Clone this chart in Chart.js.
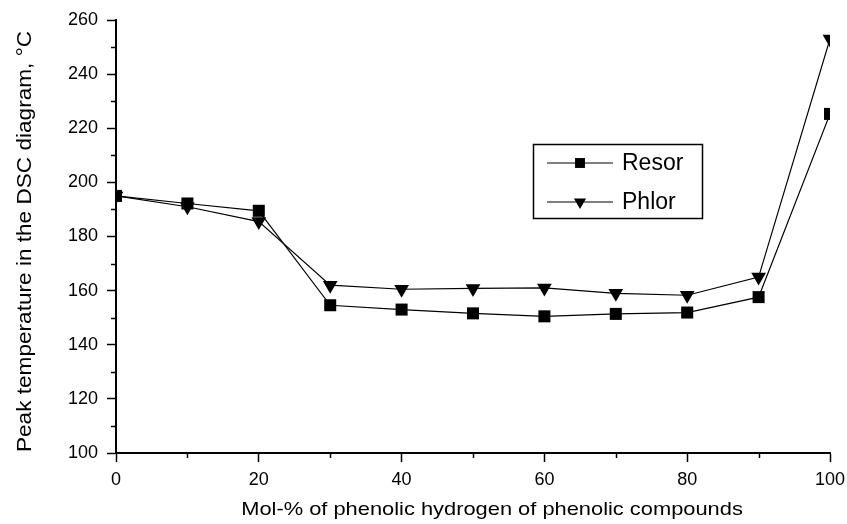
<!DOCTYPE html>
<html>
<head>
<meta charset="utf-8">
<script src="https://cdn.jsdelivr.net/npm/chart.js@4/dist/chart.umd.min.js"></script>
<style>
  html, body { margin: 0; padding: 0; background: #fff; }
  #wrap { width: 847px; height: 524px; }
</style>
</head>
<body>
<div id="wrap"><canvas id="dscchart"></canvas></div>
<script>
// values
const molPercent = [0, 10, 20, 30, 40, 50, 60, 70, 80, 90, 100];
const resor = [195, 192.2, 189.5, 154.6, 153, 151.6, 150.5, 151.4, 151.9, 157.6, 225.3];
const phlor = [195, 191, 185.5, 162, 160.5, 160.8, 161, 159, 158.3, 165, 253];
const xTitle = 'Mol-% of phenolic hydrogen of phenolic compounds';
const yTitle = 'Peak temperature in the DSC diagram, °C';

const FONT = 'Liberation Sans, Arial, Helvetica, sans-serif';

function toPoints(ys) {
  return molPercent.map((x, i) => ({ x: x, y: ys[i] }));
}

// short ticks between the labelled ones
const minorTicks = {
  id: 'minorTicks',
  afterDraw(chart) {
    const ctx = chart.ctx;
    const xs = chart.scales.x, ys = chart.scales.y;
    ctx.save();
    ctx.strokeStyle = '#000';
    ctx.lineWidth = 1.5;
    ctx.beginPath();
    for (let v = 110; v < 260; v += 20) {
      const py = Math.round(ys.getPixelForValue(v)) + 0.5;
      ctx.moveTo(xs.left - 5, py);
      ctx.lineTo(xs.left, py);
    }
    for (let v = 10; v < 100; v += 20) {
      const px = Math.round(xs.getPixelForValue(v)) + 0.5;
      ctx.moveTo(px, ys.bottom);
      ctx.lineTo(px, ys.bottom + 5);
    }
    ctx.stroke();
    ctx.restore();
  }
};

// axis titles, the scanned lettering is a bit wider than the font
const axisTitles = {
  id: 'axisTitles',
  afterDraw(chart) {
    const ctx = chart.ctx;
    const area = chart.chartArea;
    ctx.save();
    ctx.fillStyle = '#000';
    ctx.textAlign = 'center';
    ctx.textBaseline = 'middle';
    // x title
    ctx.save();
    ctx.translate(area.left + (area.right - area.left) / 2 + 19, 510);
    ctx.scale(1.15, 1);
    ctx.font = '19px ' + FONT;
    ctx.fillText(xTitle, 0, 0);
    ctx.restore();
    // y title
    ctx.save();
    ctx.translate(25, area.top + (area.bottom - area.top) / 2 + 5);
    ctx.rotate(-Math.PI / 2);
    ctx.scale(1.13, 1);
    ctx.font = '20px ' + FONT;
    ctx.fillText(yTitle, 0, 0);
    ctx.restore();
    ctx.restore();
  }
};

// boxed legend sitting inside the plot
const boxLegend = {
  id: 'boxLegend',
  afterDraw(chart) {
    const ctx = chart.ctx;
    ctx.save();
    ctx.strokeStyle = '#000';
    ctx.lineWidth = 1.5;
    ctx.strokeRect(533.5, 144.5, 169, 74);
    const rows = [163, 202];
    chart.data.datasets.forEach((ds, i) => {
      const y = rows[i];
      ctx.beginPath();
      ctx.lineWidth = 1.2;
      ctx.moveTo(547, y);
      ctx.lineTo(613, y);
      ctx.stroke();
      ctx.fillStyle = '#000';
      Chart.helpers.drawPoint(ctx, {
        pointStyle: ds.pointStyle,
        radius: ds.pointRadius - 1.5,
        rotation: ds.pointRotation || 0,
        borderWidth: 0
      }, 580, y);
      ctx.font = '23px ' + FONT;
      ctx.textBaseline = 'middle';
      ctx.textAlign = 'left';
      ctx.fillText(ds.label, 622, y + 1);
    });
    ctx.restore();
  }
};

const ctx = document.getElementById('dscchart').getContext('2d');
new Chart(ctx, {
  type: 'line',
  data: {
    datasets: [{
      label: 'Resor',
      data: toPoints(resor),
      borderColor: '#000',
      backgroundColor: '#000',
      borderWidth: 1.2,
      pointStyle: 'rect',
      pointRadius: 8.5,
      pointBorderWidth: 0,
      tension: 0
    }, {
      label: 'Phlor',
      data: toPoints(phlor),
      borderColor: '#000',
      backgroundColor: '#000',
      borderWidth: 1.2,
      pointStyle: 'triangle',
      pointRotation: 180,
      pointRadius: 8.5,
      pointBorderWidth: 0,
      tension: 0
    }]
  },
  options: {
    responsive: true,
    maintainAspectRatio: false,
    animation: false,
    layout: { padding: { left: 0, top: 20, right: 17, bottom: 0 } },
    plugins: {
      legend: { display: false },
      tooltip: { enabled: false }
    },
    scales: {
      x: {
        type: 'linear',
        min: 0,
        max: 100,
        afterFit(scale) {
          scale.height = 71;
          scale.paddingLeft = 0; scale.paddingRight = 0;
        },
        ticks: {
          stepSize: 20,
          color: '#000',
          padding: 7,
          maxRotation: 0,
          font: { family: FONT, size: 18 }
        },
        grid: {
          drawOnChartArea: false,
          tickLength: 9,
          tickWidth: 1.5,
          tickColor: '#000'
        },
        border: { color: '#000', width: 2 },
        title: { display: false }
      },
      y: {
        min: 100,
        max: 260,
        afterFit(scale) {
          scale.width = 116;
          scale.paddingTop = 0; scale.paddingBottom = 0;
        },
        ticks: {
          stepSize: 20,
          color: '#000',
          padding: 9,
          font: { family: FONT, size: 18 }
        },
        grid: {
          drawOnChartArea: false,
          tickLength: 9,
          tickWidth: 1.5,
          tickColor: '#000'
        },
        border: { color: '#000', width: 2 },
        title: { display: false }
      }
    }
  },
  plugins: [minorTicks, axisTitles, boxLegend]
});
</script>
</body>
</html>
